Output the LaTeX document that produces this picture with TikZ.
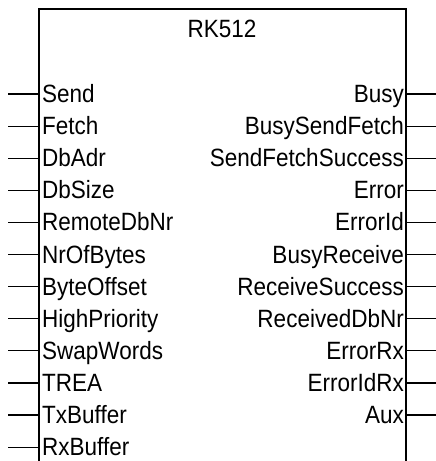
\documentclass[tikz,border=0pt]{standalone}
\usepackage{fontspec}
\setmainfont[FakeStretch=0.9]{Liberation Sans}
\begin{document}
\begin{tikzpicture}[x=1pt,y=-1pt,
  pinline/.style={line width=1.2pt,draw=black},
  boxline/.style={line width=1.2pt,draw=black},
  inlabel/.style={anchor=base west,inner sep=0pt,font=\fontsize{25}{25}\selectfont},
  outlabel/.style={anchor=base east,inner sep=0pt,font=\fontsize{25}{25}\selectfont},
  titlelabel/.style={anchor=base,inner sep=0pt,font=\fontsize{25}{25}\selectfont}]
\useasboundingbox (0,0) rectangle (436,461);
\fill[white] (0,0) rectangle (436,461);
% block outline (open at the bottom, continues beyond the picture)
\coordinate (bl) at (39,462);
\coordinate (tl) at (39,9);
\coordinate (tr) at (406,9);
\coordinate (br) at (406,462);
\draw[boxline] (bl) -- (tl) -- (tr) -- (br);
\node[titlelabel] (title) at (222,37.5) {RK512};
% inputs
\foreach \name [count=\i from 0] in {Send,Fetch,DbAdr,DbSize,RemoteDbNr,NrOfBytes,ByteOffset,HighPriority,SwapWords,TREA,TxBuffer,RxBuffer}{
  \pgfmathsetmacro{\yy}{94+32.1*\i}
  \coordinate (inA\i) at (8,\yy);
  \coordinate (inB\i) at (39,\yy);
  \draw[pinline] (inA\i) -- (inB\i);
  \node[inlabel] (inL\i) at (42,\yy+8.5) {\name};
}
% outputs
\foreach \name [count=\i from 0] in {Busy,BusySendFetch,SendFetchSuccess,Error,ErrorId,BusyReceive,ReceiveSuccess,ReceivedDbNr,ErrorRx,ErrorIdRx,Aux}{
  \pgfmathsetmacro{\yy}{94+32.1*\i}
  \coordinate (outA\i) at (406,\yy);
  \coordinate (outB\i) at (436,\yy);
  \draw[pinline] (outA\i) -- (outB\i);
  \node[outlabel] (outL\i) at (404,\yy+8.5) {\name};
}
\end{tikzpicture}
\end{document}
